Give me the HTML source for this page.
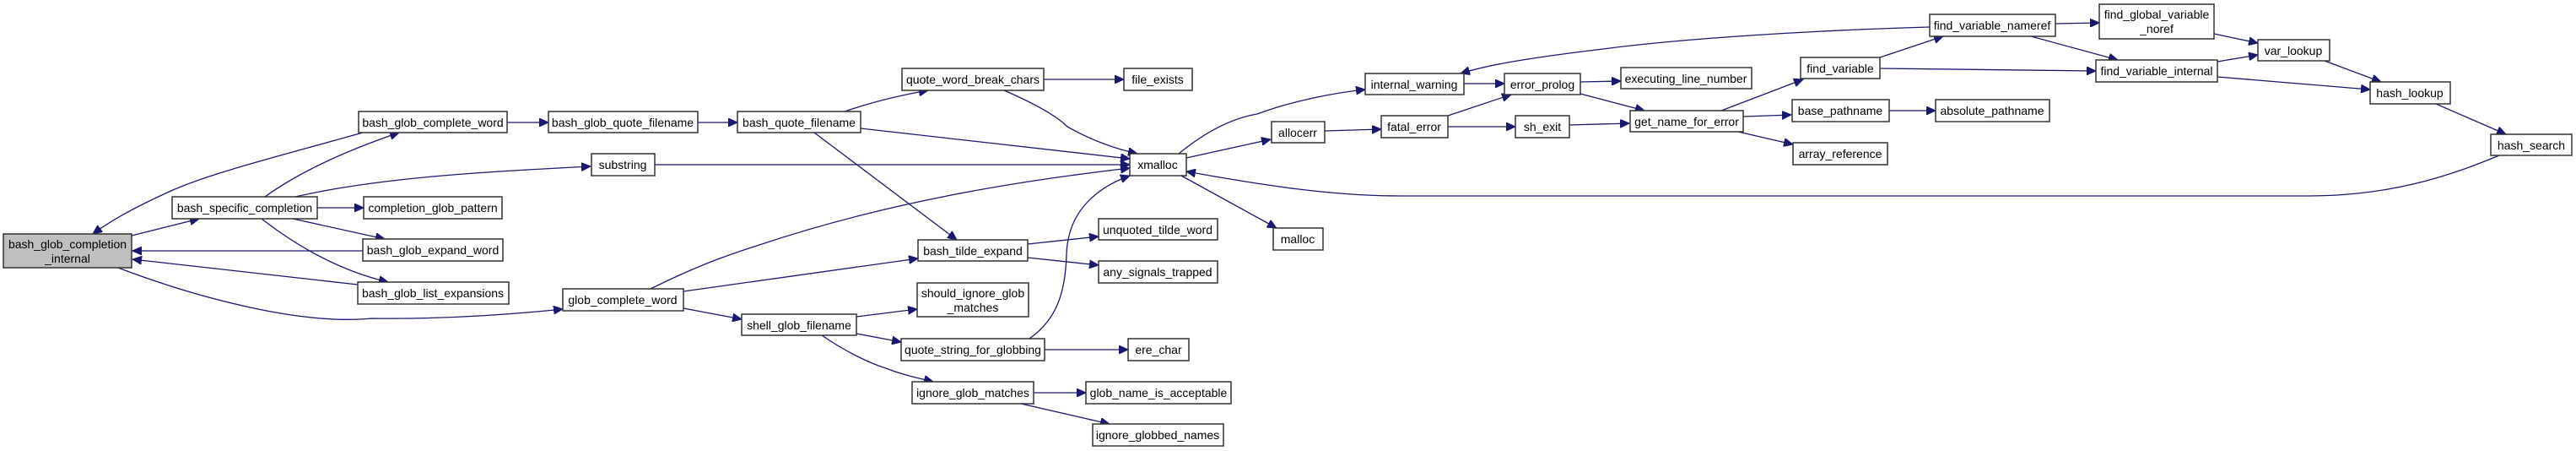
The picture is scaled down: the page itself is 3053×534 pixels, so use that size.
<!DOCTYPE html>
<html><head><meta charset="utf-8"><style>
html,body{margin:0;padding:0;background:#fff;}
svg{display:block;}
text{font-family:"Liberation Sans",sans-serif;font-size:14px;fill:#000;text-anchor:middle;}
rect{fill:#fff;stroke:#333;stroke-width:1.5;}
path.e{fill:none;stroke:#191970;stroke-width:1.3;marker-end:url(#a);}
</style></head><body>
<svg width="3053" height="534" viewBox="0 0 3053 534" xmlns="http://www.w3.org/2000/svg">
<defs><marker id="a" markerUnits="userSpaceOnUse" markerWidth="12" markerHeight="10" refX="11" refY="5" orient="auto"><path d="M0,0 L11,5 L0,10 z" fill="#191970" stroke="#191970"/></marker></defs>
<!-- edges -->
<path class="e" d="M156,279 L236,259"/>
<path class="e" d="M430,157 C330,185 250,205 205,225 C160,245 130,262 110,277"/>
<path class="e" d="M430,297 L157,297"/>
<path class="e" d="M424,337 L157,307"/>
<path class="e" d="M140,317 C240,355 360,385 440,377 C520,378 600,373 667,366"/>
<path class="e" d="M314,233 C360,200 420,175 473,157"/>
<path class="e" d="M350,233 C450,210 580,203 700,197"/>
<path class="e" d="M376,246 L431,246"/>
<path class="e" d="M347,259 L456,283"/>
<path class="e" d="M310,259 C350,290 400,320 460,334"/>
<path class="e" d="M601,145 L650,145"/>
<path class="e" d="M827,145 L874,145"/>
<path class="e" d="M1001,132 C1030,122 1060,114 1100,107"/>
<path class="e" d="M1020,152 L1339,188"/>
<path class="e" d="M965,157 L1134,284"/>
<path class="e" d="M1237,94 L1332,94"/>
<path class="e" d="M1190,107 C1220,120 1250,135 1265,150 C1300,170 1330,178 1348,182"/>
<path class="e" d="M776,195 L1339,195"/>
<path class="e" d="M771,342 C820,318 850,306 900,290 C1050,240 1200,215 1339,199"/>
<path class="e" d="M810,345 L1088,306"/>
<path class="e" d="M810,365 L879,378"/>
<path class="e" d="M1218,289 L1302,280"/>
<path class="e" d="M1218,305 L1302,314"/>
<path class="e" d="M1015,375 L1087,366"/>
<path class="e" d="M1015,395 L1068,405"/>
<path class="e" d="M974,397 C1000,415 1030,430 1050,436 C1070,444 1090,448 1106,452"/>
<path class="e" d="M1220,401 C1250,380 1263,350 1264,300 C1266,250 1300,222 1339,208"/>
<path class="e" d="M1238,414 L1337,414"/>
<path class="e" d="M1225,465 L1287,465"/>
<path class="e" d="M1210,478 L1315,502"/>
<path class="e" d="M1397,182 C1430,155 1460,140 1490,135 C1530,120 1580,110 1618,106"/>
<path class="e" d="M1406,187 L1506,165"/>
<path class="e" d="M1400,208 L1513,270"/>
<path class="e" d="M2962,184 C2900,210 2830,232 2735,232 L1660,232 C1580,232 1500,220 1406,203"/>
<path class="e" d="M1570,155 L1637,153"/>
<path class="e" d="M1716,137 L1791,112"/>
<path class="e" d="M1716,150 L1796,150"/>
<path class="e" d="M1735,99 L1783,99"/>
<path class="e" d="M1873,97 L1921,96"/>
<path class="e" d="M1873,111 L1949,131"/>
<path class="e" d="M1860,148 L1931,146"/>
<path class="e" d="M2287,32 C2150,36 2000,45 1900,58 C1800,70 1760,78 1731,87"/>
<path class="e" d="M2040,131 L2137,94"/>
<path class="e" d="M2066,138 L2123,136"/>
<path class="e" d="M2060,156 L2125,171"/>
<path class="e" d="M2228,68 L2303,43"/>
<path class="e" d="M2228,81 L2484,84"/>
<path class="e" d="M2239,131 L2294,131"/>
<path class="e" d="M2436,28 L2488,27"/>
<path class="e" d="M2407,43 L2510,71"/>
<path class="e" d="M2624,40 L2676,51"/>
<path class="e" d="M2628,73 L2676,65"/>
<path class="e" d="M2628,91 L2809,106"/>
<path class="e" d="M2755,72 L2822,97"/>
<path class="e" d="M2887,123 L2970,159"/>
<!-- nodes -->
<rect x="4" y="277" width="152" height="40" style="fill:#bfbfbf"/>
<text x="80" y="294">bash_glob_completion</text><text x="80" y="311">_internal</text>
<rect x="204" y="233" width="172" height="26"/><text x="290" y="251">bash_specific_completion</text>
<rect x="425" y="132" width="176" height="25"/><text x="513" y="150">bash_glob_complete_word</text>
<rect x="431" y="233" width="164" height="26"/><text x="513" y="251">completion_glob_pattern</text>
<rect x="430" y="283" width="166" height="26"/><text x="513" y="301">bash_glob_expand_word</text>
<rect x="424" y="334" width="179" height="26"/><text x="513" y="352">bash_glob_list_expansions</text>
<rect x="650" y="132" width="177" height="25"/><text x="738" y="150">bash_glob_quote_filename</text>
<rect x="667" y="342" width="143" height="26"/><text x="738" y="360">glob_complete_word</text>
<rect x="874" y="132" width="146" height="25"/><text x="947" y="150">bash_quote_filename</text>
<rect x="1069" y="81" width="168" height="26"/><text x="1153" y="99">quote_word_break_chars</text>
<rect x="1332" y="81" width="81" height="26"/><text x="1372" y="99">file_exists</text>
<rect x="701" y="182" width="75" height="26"/><text x="738" y="200">substring</text>
<rect x="1339" y="182" width="67" height="26"/><text x="1372" y="200">xmalloc</text>
<rect x="1088" y="284" width="130" height="25"/><text x="1153" y="302">bash_tilde_expand</text>
<rect x="1302" y="259" width="141" height="25"/><text x="1372" y="277">unquoted_tilde_word</text>
<rect x="1302" y="309" width="141" height="26"/><text x="1372" y="327">any_signals_trapped</text>
<rect x="1087" y="335" width="132" height="40"/><text x="1153" y="352">should_ignore_glob</text><text x="1153" y="369">_matches</text>
<rect x="879" y="372" width="136" height="25"/><text x="947" y="390">shell_glob_filename</text>
<rect x="1068" y="401" width="170" height="26"/><text x="1153" y="419">quote_string_for_globbing</text>
<rect x="1337" y="401" width="72" height="26"/><text x="1373" y="419">ere_char</text>
<rect x="1081" y="452" width="144" height="26"/><text x="1153" y="470">ignore_glob_matches</text>
<rect x="1287" y="452" width="172" height="26"/><text x="1373" y="470">glob_name_is_acceptable</text>
<rect x="1295" y="502" width="155" height="26"/><text x="1372" y="520">ignore_globbed_names</text>
<rect x="1618" y="87" width="117" height="25"/><text x="1676" y="105">internal_warning</text>
<rect x="1783" y="87" width="90" height="25"/><text x="1828" y="105">error_prolog</text>
<rect x="1921" y="80" width="155" height="25"/><text x="1998" y="98">executing_line_number</text>
<rect x="1507" y="144" width="63" height="25"/><text x="1538" y="162">allocerr</text>
<rect x="1637" y="137" width="79" height="26"/><text x="1676" y="155">fatal_error</text>
<rect x="1796" y="137" width="64" height="26"/><text x="1828" y="155">sh_exit</text>
<rect x="1932" y="131" width="134" height="25"/><text x="1999" y="149">get_name_for_error</text>
<rect x="1509" y="270" width="59" height="26"/><text x="1538" y="288">malloc</text>
<rect x="2134" y="68" width="94" height="25"/><text x="2181" y="86">find_variable</text>
<rect x="2124" y="118" width="115" height="26"/><text x="2181" y="136">base_pathname</text>
<rect x="2125" y="169" width="112" height="26"/><text x="2181" y="187">array_reference</text>
<rect x="2287" y="17" width="149" height="26"/><text x="2361" y="35">find_variable_nameref</text>
<rect x="2488" y="5" width="136" height="41"/><text x="2556" y="22">find_global_variable</text><text x="2556" y="39">_noref</text>
<rect x="2676" y="47" width="85" height="25"/><text x="2718" y="65">var_lookup</text>
<rect x="2484" y="71" width="144" height="26"/><text x="2556" y="89">find_variable_internal</text>
<rect x="2809" y="97" width="95" height="26"/><text x="2856" y="115">hash_lookup</text>
<rect x="2294" y="118" width="135" height="26"/><text x="2361" y="136">absolute_pathname</text>
<rect x="2952" y="159" width="96" height="25"/><text x="3000" y="177">hash_search</text>
</svg>
</body></html>
